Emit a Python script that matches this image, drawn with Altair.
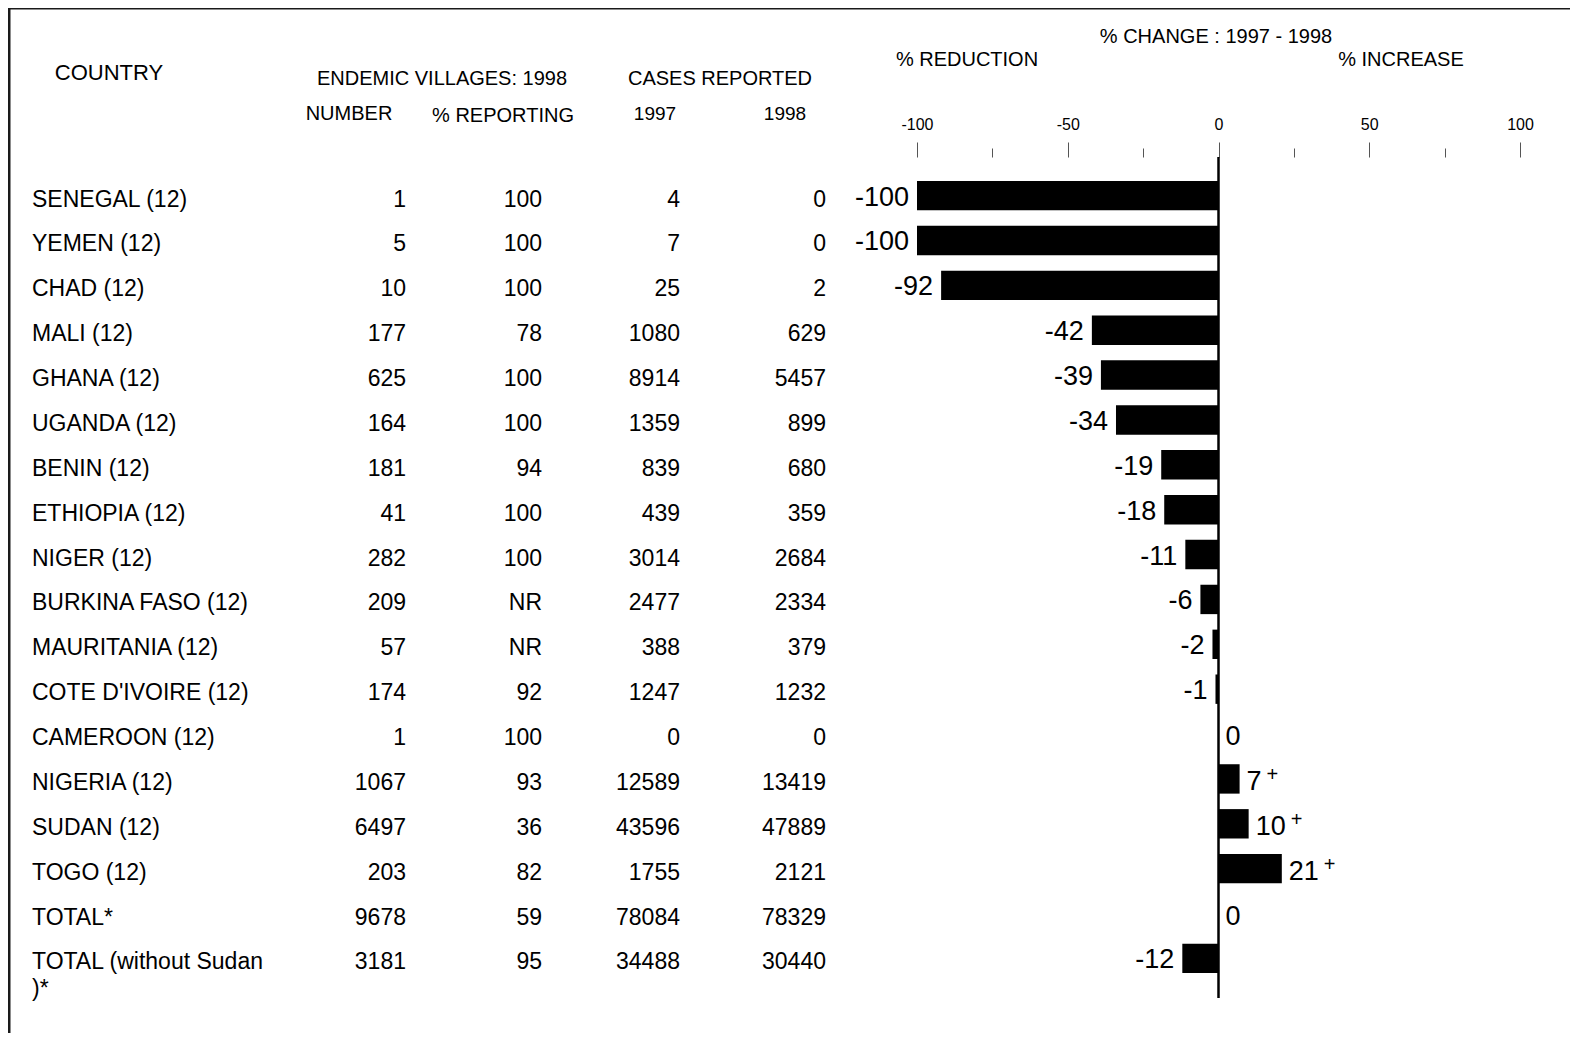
import altair as alt
import pandas as pd

countries = ["SENEGAL (12)", "YEMEN (12)", "CHAD (12)", "MALI (12)", "GHANA (12)",
             "UGANDA (12)", "BENIN (12)", "ETHIOPIA (12)", "NIGER (12)",
             "BURKINA FASO (12)", "MAURITANIA (12)", "COTE D'IVOIRE (12)",
             "CAMEROON (12)", "NIGERIA (12)", "SUDAN (12)", "TOGO (12)",
             "TOTAL*", "TOTAL (without Sudan\n)*"]
villages = ["1", "5", "10", "177", "625", "164", "181", "41", "282", "209", "57",
            "174", "1", "1067", "6497", "203", "9678", "3181"]
reporting = ["100", "100", "100", "78", "100", "100", "94", "100", "100", "NR",
             "NR", "92", "100", "93", "36", "82", "59", "95"]
cases_1997 = [4, 7, 25, 1080, 8914, 1359, 839, 439, 3014, 2477, 388, 1247, 0,
              12589, 43596, 1755, 78084, 34488]
cases_1998 = [0, 0, 2, 629, 5457, 899, 680, 359, 2684, 2334, 379, 1232, 0,
              13419, 47889, 2121, 78329, 30440]
pct_change = [-100, -100, -92, -42, -39, -34, -19, -18, -11, -6, -2, -1, 0, 7,
              10, 21, 0, -12]
plus_mark = ["", "", "", "", "", "", "", "", "", "", "", "", "", "+", "+", "+",
             "", ""]
tick_values = [-100, -75, -50, -25, 0, 25, 50, 75, 100]

FONT = "Liberation Sans"

rows = pd.DataFrame({
    "row": list(range(len(countries))),
    "country": countries,
    "villages": villages,
    "reporting": reporting,
    "c97": [str(v) for v in cases_1997],
    "c98": [str(v) for v in cases_1998],
    "pct": pct_change,
    "plus": plus_mark,
})

yenc = alt.Y("row:O", axis=None,
             scale=alt.Scale(paddingInner=0.345, paddingOuter=0.599))

base = alt.Chart(rows)

# frame
frame = alt.Chart(pd.DataFrame({"a": [0]})).mark_rect(
    fill="white", fillOpacity=0, stroke="#1a1a1a", strokeWidth=3
).encode(x=alt.value(-908), x2=alt.value(800), y=alt.value(-149), y2=alt.value(1000))

bars = base.mark_bar(color="black", yOffset=-3).encode(
    x=alt.X("pct:Q", scale=alt.Scale(domain=[-100, 100], nice=False),
            axis=alt.Axis(orient="top", values=tick_values, title=None,
                          domain=False, grid=False, labelFlush=False,
                          labelBound=False, labelOverlap=False,
                          labelExpr="datum.value % 50 === 0 ? toString(datum.value) : ''",
                          tickSize={"condition": {"test": "datum.value % 50 === 0", "value": 15}, "value": 9},
                          tickColor="#555", tickWidth=1,
                          labelPadding=10, labelFontSize=16, labelFont=FONT,
                          labelColor="black")),
    y=yenc,
)

zero_line = alt.Chart(pd.DataFrame({"a": [0]})).mark_rule(
    color="black", strokeWidth=2.5
).encode(x=alt.datum(0), y=alt.value(0), y2=alt.value(841))

neg_labels = base.transform_filter("datum.pct < 0").mark_text(
    align="right", baseline="alphabetic", dx=-8, dy=7, fontSize=27, font=FONT,
    color="black"
).encode(x="pct:Q", y=yenc, text="pct:N")

pos_labels = base.transform_filter("datum.pct >= 0").mark_text(
    align="left", baseline="alphabetic", dx=7, dy=8, fontSize=27, font=FONT,
    color="black"
).encode(x="pct:Q", y=yenc, text="pct:N")

plus1 = base.transform_filter("datum.plus == '+' && datum.pct < 10").mark_text(
    align="left", baseline="alphabetic", dx=27, dy=-1, fontSize=20, font=FONT,
    color="black"
).encode(x="pct:Q", y=yenc, text="plus:N")

plus2 = base.transform_filter("datum.plus == '+' && datum.pct >= 10").mark_text(
    align="left", baseline="alphabetic", dx=42, dy=-1, fontSize=20, font=FONT,
    color="black"
).encode(x="pct:Q", y=yenc, text="plus:N")


def column(field, xpx, align):
    return base.mark_text(align=align, baseline="alphabetic", dy=8, fontSize=23,
                          font=FONT, color="black", lineBreak="\n",
                          lineHeight=27).encode(
        x=alt.value(xpx), y=yenc, text=f"{field}:N")


cols = [
    column("country", -885, "left"),
    column("villages", -511, "right"),
    column("reporting", -375, "right"),
    column("c97", -237, "right"),
    column("c98", -91, "right"),
]


def header(txt, xpx, ypx, size=20, align="center"):
    return alt.Chart(pd.DataFrame({"t": [txt]})).mark_text(
        align=align, baseline="middle", fontSize=size, font=FONT, color="black"
    ).encode(x=alt.value(xpx), y=alt.value(ypx), text="t:N")


headers = [
    header("COUNTRY", -808, -84, 22),
    header("ENDEMIC VILLAGES: 1998", -475, -78, 20),
    header("CASES REPORTED", -197, -78, 20),
    header("NUMBER", -568, -43, 20),
    header("% REPORTING", -414, -41, 20),
    header("1997", -262, -43, 19),
    header("1998", -132, -43, 19),
    header("% CHANGE : 1997 - 1998", 299, -120, 20),
    header("% REDUCTION", 50, -97, 20),
    header("% INCREASE", 484, -97, 20),
]

chart = alt.layer(
    frame, bars, zero_line, neg_labels, pos_labels, plus1, plus2, *cols, *headers
).properties(
    width=603, height=846,
    padding={"left": 909, "top": 149, "right": 50, "bottom": 30},
    autosize="none",
    background="white",
).configure(font=FONT, view=alt.ViewConfig(stroke=None))

chart.save("out.html", embed_options={"renderer": "svg", "actions": False})
